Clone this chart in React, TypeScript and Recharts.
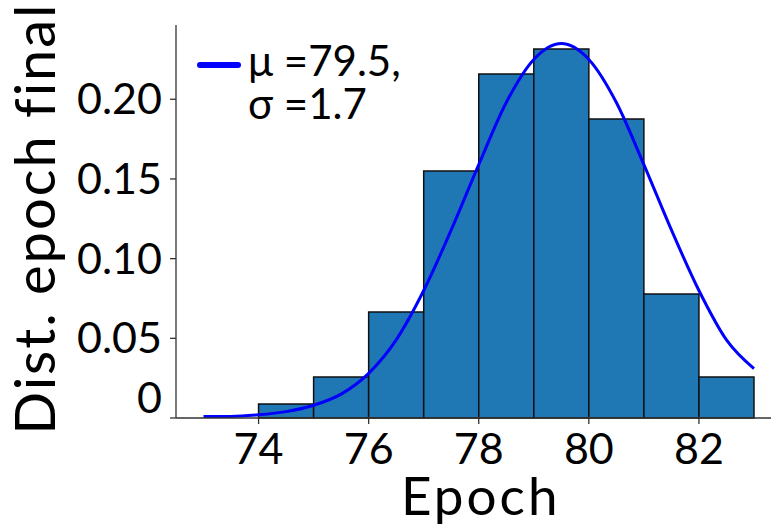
import React from 'react';
import { ComposedChart, Line, XAxis, YAxis, ReferenceArea, Legend } from 'recharts';

// histogram bins (edges) and normalised heights
const binEdges = [74, 75, 76, 77, 78, 79, 80, 81, 82, 83];
const binHeights = [0.0088, 0.0257, 0.0665, 0.155, 0.2158, 0.2315, 0.1876, 0.0778, 0.0257];

// fitted curve
const curveX = [73, 73.5, 74, 74.5, 75, 75.5, 76, 76.5, 77, 77.5, 78, 78.5, 79, 79.5, 80, 80.5, 81, 81.5, 82, 82.5, 83];
const curveY = [0.001, 0.001, 0.002, 0.004, 0.008, 0.015, 0.028, 0.049, 0.08, 0.118, 0.159, 0.198, 0.225, 0.235, 0.225, 0.198, 0.159, 0.118, 0.08, 0.049, 0.031];

const xTicks = [74, 76, 78, 80, 82];
const yTicks = [0, 0.05, 0.1, 0.15, 0.2];
const legendLines = ['μ =79.5,', 'σ =1.7'];

const FONT = 'Lato, "Open Sans", sans-serif';
const BAR_COLOR = '#1f77b4';
const CURVE_COLOR = '#0000ff';
const AXIS_COLOR = '#333';

const curveData = curveX.map((x, i) => ({ x, y: curveY[i] }));

const fmtY = (v: number) => (v === 0 ? '0' : v.toFixed(2));

const XTick = ({ x, y, payload }: any) => (
  <text x={x} y={y} dy='0.71em' textAnchor='middle' fontFamily={FONT} fontSize={43} fill='#000'>
    {payload.value}
  </text>
);

const YTick = ({ x, y, payload }: any) => (
  <text
    x={x}
    y={y + (payload.value === 0 ? -20 : 0)}
    dy='0.35em'
    textAnchor='end'
    fontFamily={FONT}
    fontSize={43}
    fill='#000'
  >
    {fmtY(payload.value)}
  </text>
);

const LegendBox = () => (
  <svg width={260} height={100}>
    <line x1={12} y1={35} x2={50} y2={35} stroke={CURVE_COLOR} strokeWidth={6} strokeLinecap='round' />
    {legendLines.map((t, i) => (
      <text key={t} x={60} y={46 + i * 43} fontFamily={FONT} fontSize={42} fill='#000'>
        {t}
      </text>
    ))}
  </svg>
);

const App: React.FC = () => {
  return (
    <div style={{ position: 'absolute', left: 0, top: 0, width: 771, height: 526, overflow: 'hidden', background: '#fff' }}>
      <ComposedChart
        width={790}
        height={526}
        data={curveData}
        margin={{ top: 25, right: 8.5, left: 0, bottom: 0 }}
      >
        <XAxis
          dataKey='x'
          type='number'
          domain={[72.5, 83.5]}
          ticks={xTicks}
          tick={<XTick />}
          tickSize={6}
          tickMargin={9}
          height={108}
          stroke={AXIS_COLOR}
          strokeWidth={1.3}
          allowDataOverflow
          label={{
            content: ({ viewBox }: any) => (
              <text
                x={viewBox.x + viewBox.width / 2 + 2}
                y={viewBox.y + 97}
                textAnchor='middle'
                fontFamily={FONT}
                fontSize={53}
                letterSpacing={3}
                fill='#000'
              >
                Epoch
              </text>
            ),
          }}
        />
        <XAxis
          xAxisId='top'
          orientation='top'
          type='number'
          domain={[72.5, 83.5]}
          tick={false}
          tickLine={false}
          height={0}
          stroke={AXIS_COLOR}
          strokeWidth={1.3}
          allowDataOverflow
        />
        <YAxis
          type='number'
          domain={[0, 0.2466]}
          ticks={yTicks}
          tick={<YTick />}
          tickSize={6}
          tickMargin={8}
          width={176}
          stroke={AXIS_COLOR}
          strokeWidth={1.3}
          allowDataOverflow
          label={{
            content: ({ viewBox }: any) => {
              const cx = viewBox.x + 55;
              const cy = viewBox.y + viewBox.height / 2 - 3;
              return (
                <text
                  x={cx}
                  y={cy}
                  textAnchor='middle'
                  transform={`rotate(-90, ${cx}, ${cy})`}
                  fontFamily={FONT}
                  fontSize={56}
                  letterSpacing={2}
                  fill='#000'
                >
                  Dist. epoch final
                </text>
              );
            },
          }}
        />
        {binHeights.map((h, i) => (
          <ReferenceArea
            key={i}
            x1={binEdges[i]}
            x2={binEdges[i + 1]}
            y1={0}
            y2={h}
            fill={BAR_COLOR}
            fillOpacity={1}
            stroke='#111'
            strokeWidth={1.5}
            strokeOpacity={1}
            ifOverflow='visible'
          />
        ))}
        <Line
          type='monotone'
          dataKey='y'
          stroke={CURVE_COLOR}
          strokeWidth={3}
          dot={false}
          isAnimationActive={false}
          name={legendLines.join(' ')}
        />
        <Legend
          layout='horizontal'
          verticalAlign='middle'
          align='center'
          content={<LegendBox />}
          wrapperStyle={{ left: 188, top: 30, width: 260, height: 100 }}
        />
      </ComposedChart>
    </div>
  );
};

export default App;
